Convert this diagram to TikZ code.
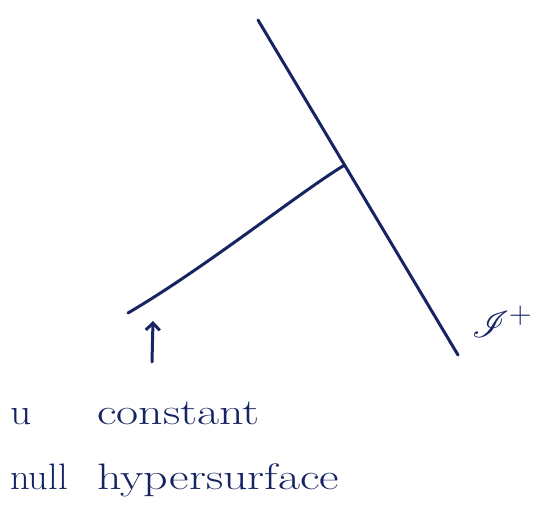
\documentclass[tikz,border=0pt]{standalone}
\usepackage{amsmath,amssymb}
\usepackage{mathrsfs}
\usepackage{graphicx}
\usetikzlibrary{arrows.meta,calc}
\definecolor{handink}{RGB}{22,36,98}
\newcommand{\handtext}{\fontsize{32}{38}\selectfont}

\begin{document}
\begin{tikzpicture}[x=1pt, y=-1pt,
    ink/.style={draw=handink, line width=3pt, line cap=round},
    lbl/.style={text=handink, font=\handtext, inner sep=0pt, anchor=base west}]
  \useasboundingbox (0,0) rectangle (539,518);

  % Null infinity
  \coordinate (scritop) at (258,20);
  \coordinate (scribot) at (458,355);
  \draw[ink] (scritop) -- (scribot);
  \coordinate (meet) at ($(scritop)!0.433!(scribot)$);
  \node[text=handink, font=\Huge] (scri) at (502,322) {\scalebox{1.5}{$\mathscr{I}^+$}};

  % Null hypersurface u = const
  \coordinate (ustart) at (128,313);
  \draw[ink] (ustart) .. controls (205,268) and (300,192) .. (meet);

  % Arrow pointing at the hypersurface
  \coordinate (tail) at (152,362);
  \coordinate (head) at (153,321);
  \draw[ink, -{Straight Barb[length=7pt, width=14pt]}] (tail) -- (head);

  % Labels
  \foreach \name/\x/\y/\sx/\txt in {u/10/425/1.3/u, const/97/425/1.5/constant,
      null/10/490/1.2/null, hyper/97/490/1.5/hypersurface} {
    \node[lbl] (\name) at (\x,\y) {\scalebox{\sx}[1.15]{\txt}};
  }
\end{tikzpicture}
\end{document}
